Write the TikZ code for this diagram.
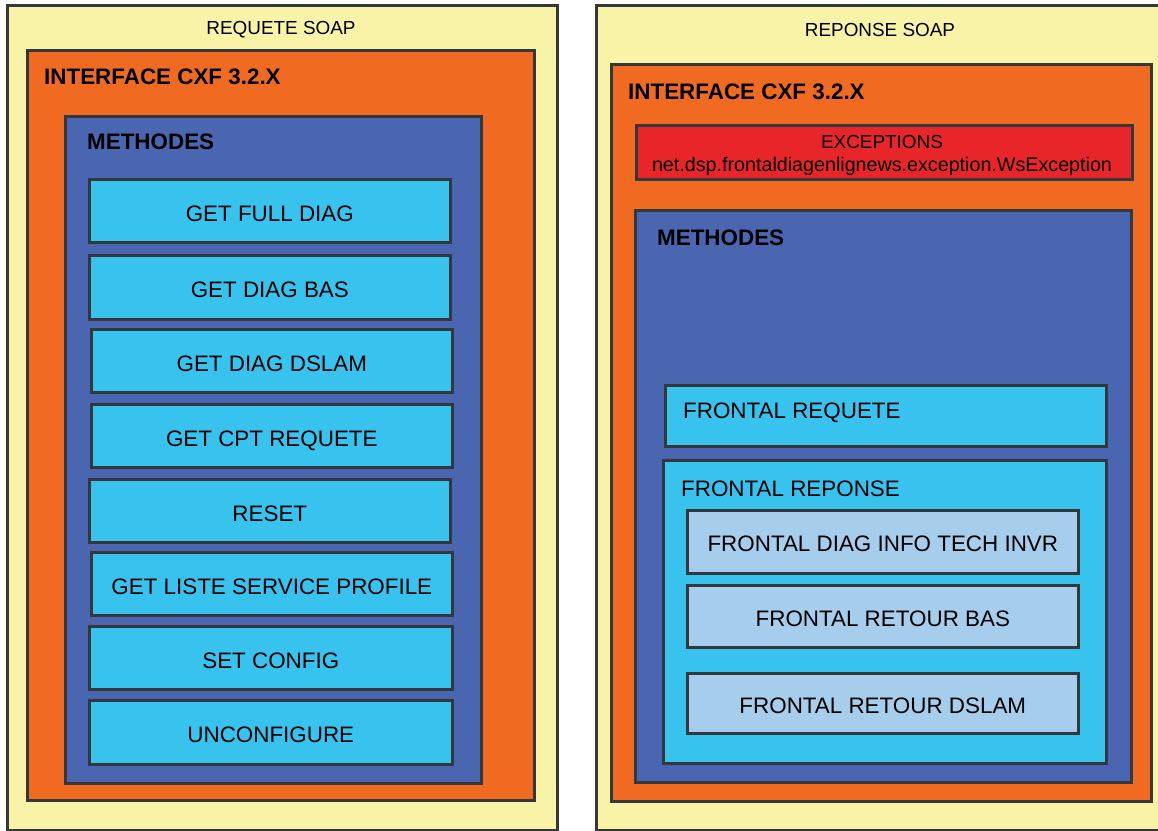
\documentclass[tikz,border=0pt]{standalone}
\usepackage{fontspec}
\setmainfont{Liberation Sans}
\definecolor{soap}{RGB}{248,243,166}
\definecolor{cxf}{RGB}{240,106,34}
\definecolor{meth}{RGB}{74,102,176}
\definecolor{call}{RGB}{56,195,239}
\definecolor{sub}{RGB}{166,206,236}
\definecolor{exc}{RGB}{232,38,42}
\definecolor{edge}{RGB}{52,56,60}
\newcommand\bigtxt{\fontsize{22.4}{25}\selectfont}
\newcommand\smalltxt{\fontsize{18.9}{21}\selectfont}
\tikzset{
  frame/.style={rectangle, draw=edge, line width=2.6pt, anchor=north west, inner sep=0pt},
  soapbox/.style={frame, fill=soap},
  cxfbox/.style={frame, fill=cxf},
  methbox/.style={frame, fill=meth},
  callbox/.style={frame, fill=call, font=\bigtxt, text depth=0pt, text height=21pt},
  subbox/.style={frame, fill=sub, font=\bigtxt, text depth=0pt, text height=20pt},
  excbox/.style={frame, fill=exc},
  heading/.style={anchor=west, inner sep=0pt, font=\bigtxt\bfseries},
  caption/.style={inner sep=0pt, font=\smalltxt},
  plain/.style={anchor=base west, inner sep=0pt, font=\bigtxt}
}
\begin{document}
\begin{tikzpicture}[x=1pt, y=-1pt]
\useasboundingbox (0,0) rectangle (1158,830);
\fill[white] (0,0) rectangle (1158,830);

% ---------- request side ----------
\node[soapbox, minimum width=550pt, minimum height=825pt] (reqsoap) at (6,4) {};
\node[caption] (reqtitle) at (281,30) {REQUETE SOAP};
\node[cxfbox, minimum width=507pt, minimum height=750pt] (reqcxf) at (26,49) {};
\node[heading] (reqcxft) at (44,77) {INTERFACE CXF 3.2.X};
\node[methbox, minimum width=416pt, minimum height=667pt] (reqmeth) at (64,115) {};
\node[heading] (reqmetht) at (87,142) {METHODES};

\node[callbox, minimum width=361pt, minimum height=63pt] (m1) at (88,178) {GET FULL DIAG};
\node[callbox, minimum width=361pt, minimum height=64pt] (m2) at (88,254) {GET DIAG BAS};
\node[callbox, minimum width=361pt, minimum height=63pt] (m3) at (90,328) {GET DIAG DSLAM};
\node[callbox, minimum width=361pt, minimum height=63pt] (m4) at (90,403) {GET CPT REQUETE};
\node[callbox, minimum width=361pt, minimum height=63pt] (m5) at (88,478) {RESET};
\node[callbox, minimum width=361pt, minimum height=63pt] (m6) at (90,551) {GET LISTE SERVICE PROFILE};
\node[callbox, minimum width=363pt, minimum height=63pt] (m7) at (88,625) {SET CONFIG};
\node[callbox, minimum width=363pt, minimum height=64pt] (m8) at (88,699) {UNCONFIGURE};

% ---------- response side ----------
\node[soapbox, minimum width=570pt, minimum height=825pt] (repsoap) at (595,4) {};
\node[caption] (reptitle) at (880,30) {REPONSE SOAP};
\node[cxfbox, minimum width=540pt, minimum height=737pt] (repcxf) at (610,63) {};
\node[heading] (repcxft) at (628,92) {INTERFACE CXF 3.2.X};

\node[excbox, minimum width=496pt, minimum height=54pt] (exc) at (635,124) {};
\node[caption, anchor=base] (exct) at (882,148.8) {EXCEPTIONS};
\node[caption, anchor=base, font=\fontsize{19.7}{22}\selectfont] (excc) at (882,171) {net.dsp.frontaldiagenlignews.exception.WsException};

\node[methbox, minimum width=496pt, minimum height=572pt] (repmeth) at (634,209) {};
\node[heading] (repmetht) at (657,238) {METHODES};

\node[callbox, minimum width=441pt, minimum height=61pt] (freq) at (664,384) {};
\node[plain] (freqt) at (683,418) {FRONTAL REQUETE};

\node[callbox, minimum width=443pt, minimum height=303pt] (frep) at (662,459) {};
\node[plain] (frept) at (681,496) {FRONTAL REPONSE};

\node[subbox, minimum width=391pt, minimum height=63pt] (r1) at (686,509) {FRONTAL DIAG INFO TECH INVR};
\node[subbox, minimum width=391pt, minimum height=62pt] (r2) at (686,584) {FRONTAL RETOUR BAS};
\node[subbox, minimum width=391pt, minimum height=60pt] (r3) at (686,672) {FRONTAL RETOUR DSLAM};
\end{tikzpicture}
\end{document}
